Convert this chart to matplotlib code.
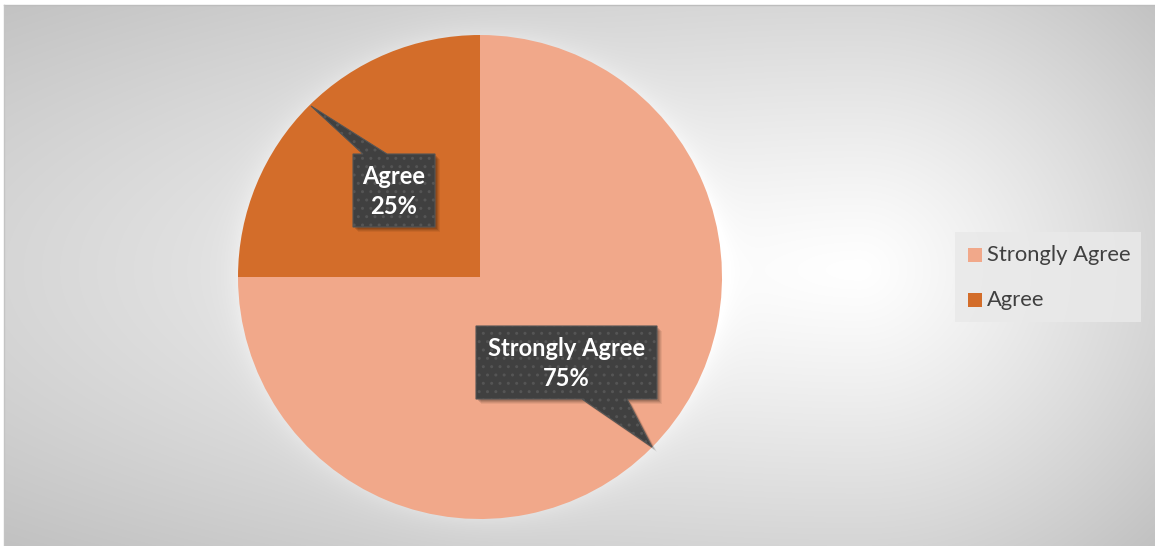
import numpy as np
import matplotlib.pyplot as plt
from matplotlib.patches import Polygon, Rectangle

# survey responses
categories = ["Strongly Agree", "Agree"]
values = [75, 25]
colors = ["#F1A88A", "#D36D2A"]

W, H = 1155, 546
fig = plt.figure(figsize=(W / 100, H / 100), dpi=100)
ax = fig.add_axes([0, 0, 1, 1])


def py(y):
    # pixel row (from top) -> data y
    return H - y


# soft radial background, lightest right of the pie
x0, y0 = 4, 5
xs = np.arange(x0, W) + 0.5
ys = np.arange(y0, H) + 0.5
X, Y = np.meshgrid(xs, ys)
cx, cy = 860, 270
sx = np.where(X < cx, cx - x0, W - cx)
dy = (Y - cy) / ((H - y0) / 2)
d = np.sqrt(((X - cx) / sx) ** 2 + dy ** 2)
gray = 1 - 0.24 * np.clip(d / 1.414, 0, 1) ** 1.15

# faint light halo around the pie
pcx, pcy, R = 480, 277, 242
rp = np.sqrt((X - pcx) ** 2 + (Y - pcy) ** 2)
gray = np.clip(gray + 0.04 * np.exp(-np.clip(rp - R, 0, None) / 12), 0, 1)
bg = np.dstack([gray, gray, gray])
ax.imshow(bg, extent=[x0, W, 0, py(y0)], origin="upper", zorder=0, aspect="auto")
ax.plot([x0, W], [py(y0), py(y0)], color="#bdbdbd", lw=1, zorder=1)
ax.plot([x0, x0], [0, py(y0)], color="#c4c4c4", lw=1, zorder=1)

ax.pie(values, colors=colors, startangle=90, counterclock=False,
       center=(pcx, py(pcy)), radius=R, wedgeprops=dict(linewidth=0),
       frame=True)

total = sum(values)
labels = [f"{c}\n{v / total * 100:.0f}%" for c, v in zip(categories, values)]

# callout boxes: (left, top, right, bottom), tail base on an edge, tail tip
callouts = [
    ((476, 326, 657, 399), [(627, 399), (582, 399)], (652, 447)),
    ((353, 154, 435, 227), [(363, 154), (387, 154)], (311, 106)),
]

for lab, (box, base, tip) in zip(labels, callouts):
    l, t, r, b = box
    if base[0][1] == b:
        pts = [(l, t), (r, t), (r, b), base[0], tip, base[1], (l, b)]
    else:
        pts = [(l, t), base[0], tip, base[1], (r, t), (r, b), (l, b)]
    pts = [(x, py(y)) for x, y in pts]
    for k, a in [(5, 0.06), (4, 0.08), (3, 0.1), (2, 0.12)]:
        sh = [(x + k, y - k) for x, y in pts]
        ax.add_patch(Polygon(sh, closed=True, facecolor="black", edgecolor="none",
                             alpha=a, zorder=3))
    ax.add_patch(Polygon(pts, closed=True, facecolor="#404040", edgecolor="#555555",
                         lw=0.8, hatch="..", zorder=4))
    ax.text((l + r) / 2, py((t + b) / 2 + 1), lab, ha="center", va="center",
            color="white", fontsize=17, fontweight="bold", family="Lato",
            linespacing=1.42, zorder=5)

# legend
ax.add_patch(Rectangle((955, py(322)), 186, 90, facecolor="#e9e9e9", edgecolor="none",
                       alpha=0.85, zorder=3))
for i, (c, col) in enumerate(zip(categories, colors)):
    yc = 255 + 45 * i
    ax.add_patch(Rectangle((968, py(yc + 7)), 14, 14, facecolor=col, edgecolor="none",
                           zorder=4))
    ax.text(987, py(yc), c, ha="left", va="center", color="#404040",
            fontsize=15.8, family="Lato", zorder=4)

ax.set_xlim(0, W)
ax.set_ylim(0, H)
ax.set_aspect("auto")
ax.axis("off")

fig.savefig("out.png", dpi=100, facecolor="white")
